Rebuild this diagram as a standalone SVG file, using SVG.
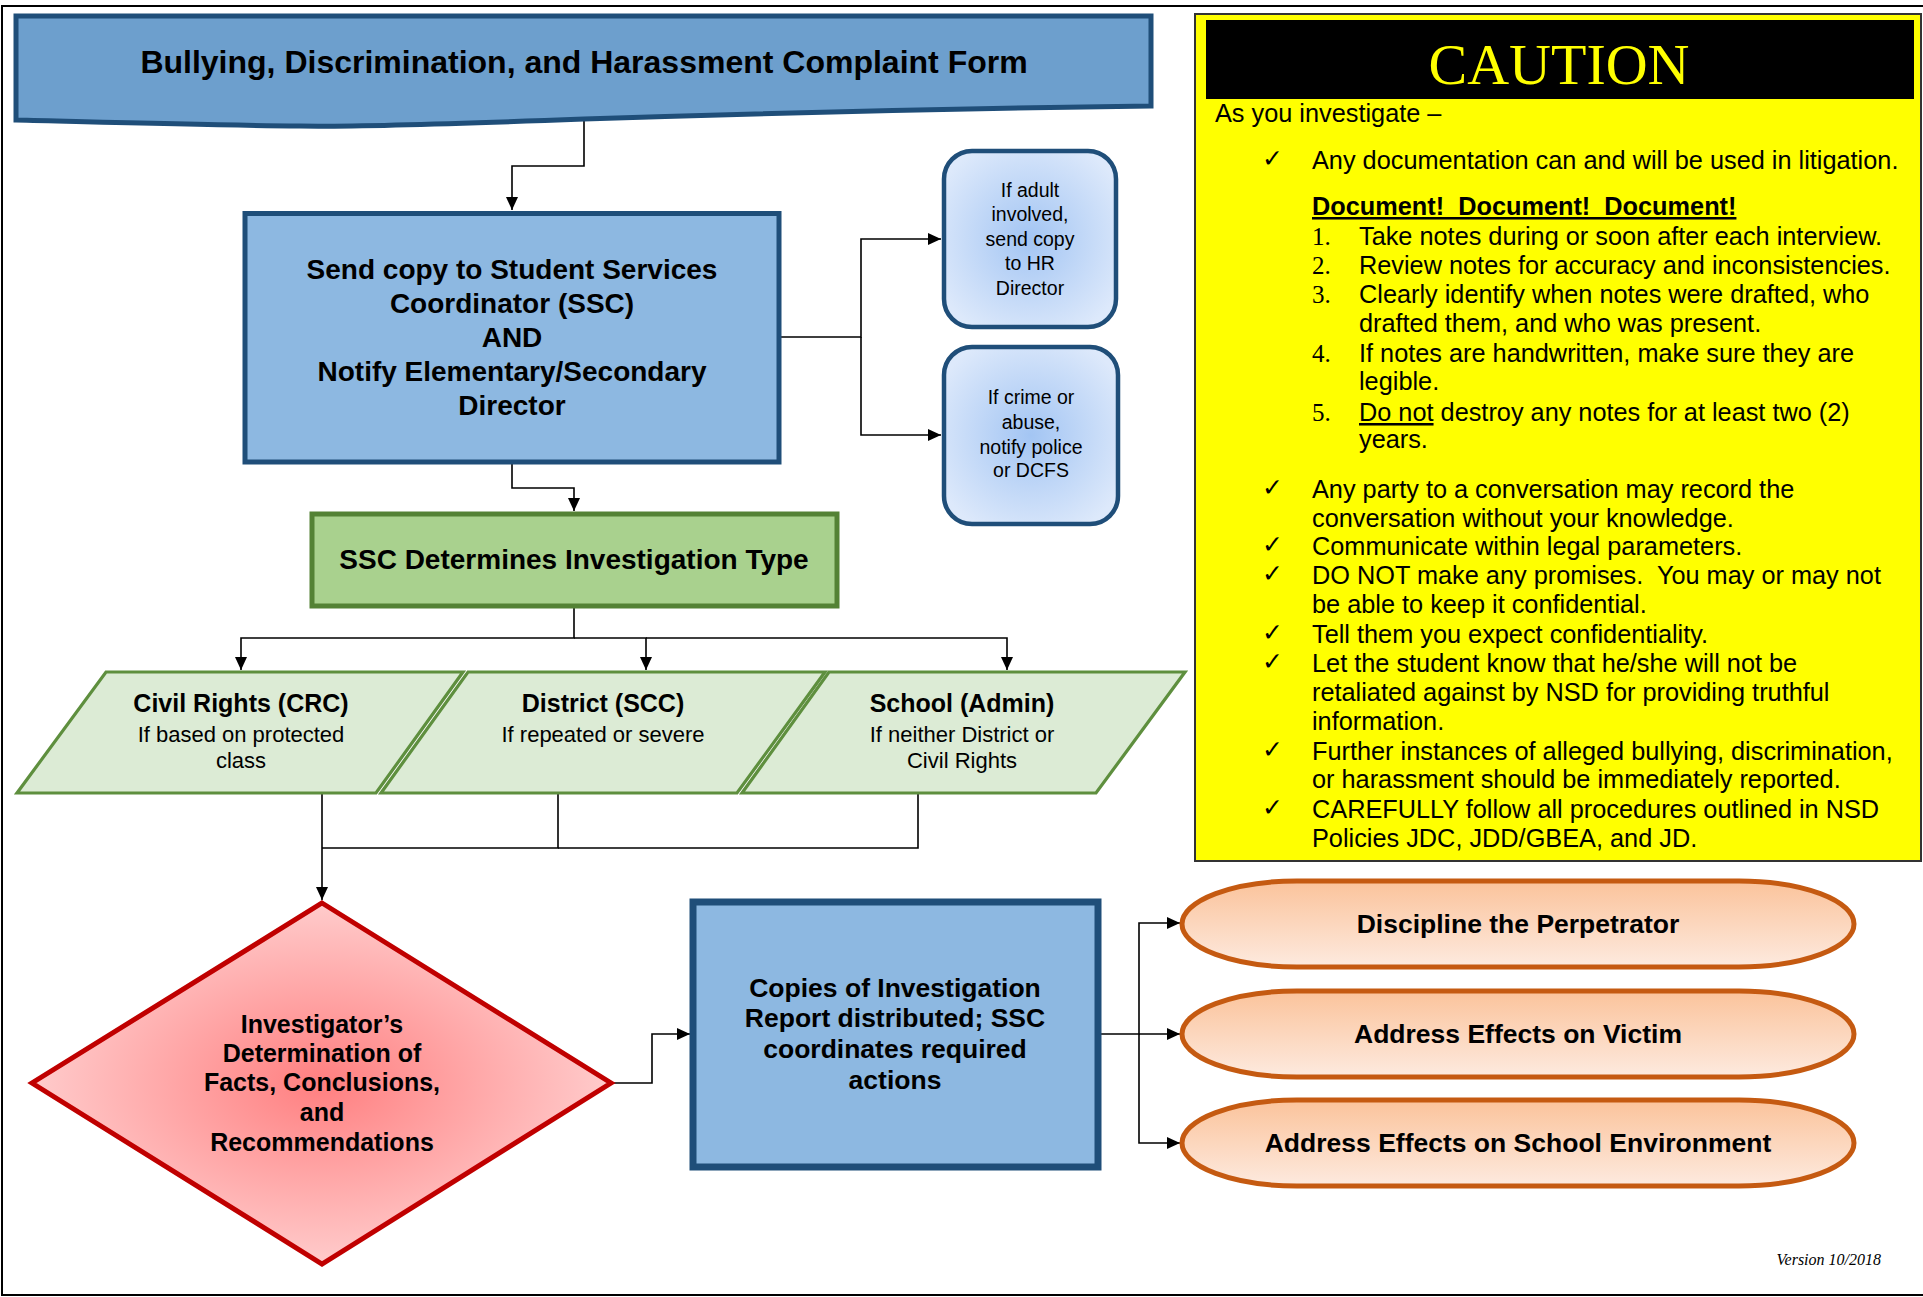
<svg xmlns="http://www.w3.org/2000/svg" width="1923" height="1297" viewBox="0 0 1923 1297">
<style>
text{font-family:"Liberation Sans",Arial,sans-serif;fill:#000}
.b{font-weight:bold}
.c{text-anchor:middle}
.conn{fill:none;stroke:#000;stroke-width:1.6}
.cl{font-size:25.3px}
.num{font-family:"Liberation Serif","Times New Roman",serif;font-size:25px}
.chk{font-family:"DejaVu Serif","DejaVu Sans",serif;font-size:25px}
.side{font-size:19.5px}
</style>
<defs>
<marker id="ah" markerUnits="userSpaceOnUse" markerWidth="13" markerHeight="12" refX="13" refY="6" orient="auto">
<path d="M0,0 L13,6 L0,12 Z" fill="#000"/>
</marker>
<radialGradient id="gSide" cx="50%" cy="50%" r="60%">
<stop offset="0" stop-color="#a3c5f3"/>
<stop offset="1" stop-color="#dde9fb"/>
</radialGradient>
<radialGradient id="gDia" cx="50%" cy="50%" r="55%">
<stop offset="0" stop-color="#ff7f80"/>
<stop offset="1" stop-color="#ffd3d3"/>
</radialGradient>
<linearGradient id="gOval" x1="0" y1="0" x2="0" y2="1">
<stop offset="0" stop-color="#fbc39b"/>
<stop offset="1" stop-color="#fdeadf"/>
</linearGradient>
</defs>
<rect width="1923" height="1297" fill="#fff"/>
<rect x="2" y="6" width="1940" height="1289" fill="none" stroke="#000" stroke-width="2"/>

<g id="connectors">
<path class="conn" d="M584,119 V166 H512 V210" marker-end="url(#ah)"/>
<path class="conn" d="M779,337 H861 V239 H941" marker-end="url(#ah)"/>
<path class="conn" d="M861,337 V435 H941" marker-end="url(#ah)"/>
<path class="conn" d="M512,462 V488 H574 V511" marker-end="url(#ah)"/>
<path class="conn" d="M574,607 V638 H241 V670" marker-end="url(#ah)"/>
<path class="conn" d="M574,638 H646 V670" marker-end="url(#ah)"/>
<path class="conn" d="M646,638 H1007 V670" marker-end="url(#ah)"/>
<path class="conn" d="M203,792 H322 V900" marker-end="url(#ah)"/>
<path class="conn" d="M558,793 V848 H322"/>
<path class="conn" d="M918,793 V848 H558"/>
<path class="conn" d="M611,1083 H652 V1034 H690" marker-end="url(#ah)"/>
<path class="conn" d="M1098,1034 H1139 V923 H1180" marker-end="url(#ah)"/>
<path class="conn" d="M1139,1034 H1180" marker-end="url(#ah)"/>
<path class="conn" d="M1139,1034 V1143 H1180" marker-end="url(#ah)"/>
</g>

<g id="n-form">
<path d="M16,16 H1151 V106 C1000,108 800,112 584,119 C450,124 360,127 300,126 C200,125 100,122 16,120 Z" fill="#6d9fcd" stroke="#1f4e79" stroke-width="5"/>
<text class="b c" x="584" y="73" font-size="32">Bullying, Discrimination, and Harassment Complaint Form</text>
</g>

<g id="n-send">
<rect x="245" y="213.5" width="534" height="248.5" fill="#8db8e1" stroke="#1f4e79" stroke-width="5"/>
<text class="b c" font-size="28"><tspan x="512" y="279">Send copy to Student Services</tspan><tspan x="512" y="313">Coordinator (SSC)</tspan><tspan x="512" y="347">AND</tspan><tspan x="512" y="381">Notify Elementary/Secondary</tspan><tspan x="512" y="415">Director</tspan></text>
</g>

<g id="n-hr">
<rect x="944" y="151" width="172" height="176" rx="28" fill="url(#gSide)" stroke="#1f4e79" stroke-width="4.5"/>
<text class="c side"><tspan x="1030" y="196.5">If adult</tspan><tspan x="1030" y="221">involved,</tspan><tspan x="1030" y="246">send copy</tspan><tspan x="1030" y="270">to HR</tspan><tspan x="1030" y="295">Director</tspan></text>
</g>

<g id="n-police">
<rect x="944" y="347" width="174" height="177" rx="28" fill="url(#gSide)" stroke="#1f4e79" stroke-width="4.5"/>
<text class="c side"><tspan x="1031" y="404">If crime or</tspan><tspan x="1031" y="429">abuse,</tspan><tspan x="1031" y="453.5">notify police</tspan><tspan x="1031" y="477">or DCFS</tspan></text>
</g>

<g id="n-type">
<rect x="312" y="514" width="525" height="92" fill="#a9d18e" stroke="#548235" stroke-width="5"/>
<text class="b c" x="574" y="569" font-size="28">SSC Determines Investigation Type</text>
</g>

<g id="n-crc">
<polygon points="106,672 463,672 376,793 17,793" fill="#dcebd5" stroke="#5e8f3e" stroke-width="3.2"/>
<text class="c"><tspan class="b" x="241" y="712" font-size="25">Civil Rights (CRC)</tspan><tspan x="241" y="742" font-size="22">If based on protected</tspan><tspan x="241" y="768" font-size="22">class</tspan></text>
</g>

<g id="n-scc">
<polygon points="468,672 825,672 737,793 381,793" fill="#dcebd5" stroke="#5e8f3e" stroke-width="3.2"/>
<text class="c"><tspan class="b" x="603" y="712" font-size="25">District (SCC)</tspan><tspan x="603" y="742" font-size="22">If repeated or severe</tspan></text>
</g>

<g id="n-admin">
<polygon points="829,672 1185,672 1096,793 742,793" fill="#dcebd5" stroke="#5e8f3e" stroke-width="3.2"/>
<text class="c"><tspan class="b" x="962" y="712" font-size="25">School (Admin)</tspan><tspan x="962" y="742" font-size="22">If neither District or</tspan><tspan x="962" y="768" font-size="22">Civil Rights</tspan></text>
</g>

<g id="n-determination">
<polygon points="322,903 611,1083 322,1264 32,1083" fill="url(#gDia)" stroke="#c00000" stroke-width="5"/>
<text class="b c" font-size="25"><tspan x="322" y="1033">Investigator’s</tspan><tspan x="322" y="1062">Determination of</tspan><tspan x="322" y="1091">Facts, Conclusions,</tspan><tspan x="322" y="1121">and</tspan><tspan x="322" y="1151">Recommendations</tspan></text>
</g>

<g id="n-copies">
<rect x="693" y="902" width="405" height="265" fill="#8db8e1" stroke="#1f4e79" stroke-width="7"/>
<text class="b c" font-size="26.5"><tspan x="895" y="997">Copies of Investigation</tspan><tspan x="895" y="1027">Report distributed; SSC</tspan><tspan x="895" y="1058">coordinates required</tspan><tspan x="895" y="1089">actions</tspan></text>
</g>

<g id="n-discipline">
<rect x="1182" y="881" width="672" height="86" rx="115" ry="43" fill="url(#gOval)" stroke="#c55a11" stroke-width="5"/>
<text class="b c" x="1518" y="933" font-size="26.5">Discipline the Perpetrator</text>
</g>

<g id="n-victim">
<rect x="1182" y="991" width="672" height="86" rx="115" ry="43" fill="url(#gOval)" stroke="#c55a11" stroke-width="5"/>
<text class="b c" x="1518" y="1043" font-size="26.5">Address Effects on Victim</text>
</g>

<g id="n-environment">
<rect x="1182" y="1100" width="672" height="86" rx="115" ry="43" fill="url(#gOval)" stroke="#c55a11" stroke-width="5"/>
<text class="b c" x="1518" y="1152" font-size="26.5">Address Effects on School Environment</text>
</g>

<g id="n-caution">
<rect x="1195" y="14" width="726" height="847" fill="#ffff00" stroke="#333" stroke-width="2"/>
<rect x="1206" y="20" width="708" height="79" fill="#000"/>
<text x="1559" y="84" text-anchor="middle" font-size="58" style="fill:#ffff00;font-family:'Liberation Serif','Times New Roman',serif">CAUTION</text>
<text class="cl" x="1215" y="122">As you investigate –</text>
<text class="chk" x="1262" y="167">✓</text>
<text class="cl" x="1312" y="169">Any documentation can and will be used in litigation.</text>
<text class="cl b" x="1312" y="215" text-decoration="underline" xml:space="preserve">Document!  Document!  Document!</text>
<text class="num" x="1312" y="245">1.</text><text class="cl" x="1359" y="245">Take notes during or soon after each interview.</text>
<text class="num" x="1312" y="274">2.</text><text class="cl" x="1359" y="274">Review notes for accuracy and inconsistencies.</text>
<text class="num" x="1312" y="303">3.</text><text class="cl" x="1359" y="303">Clearly identify when notes were drafted, who</text>
<text class="cl" x="1359" y="332">drafted them, and who was present.</text>
<text class="num" x="1312" y="362">4.</text><text class="cl" x="1359" y="362">If notes are handwritten, make sure they are</text>
<text class="cl" x="1359" y="390">legible.</text>
<text class="num" x="1312" y="421">5.</text><text class="cl" x="1359" y="421" xml:space="preserve"><tspan text-decoration="underline">Do not</tspan> destroy any notes for at least two (2)</text>
<text class="cl" x="1359" y="448">years.</text>
<text class="chk" x="1262" y="496">✓</text><text class="cl" x="1312" y="498">Any party to a conversation may record the</text>
<text class="cl" x="1312" y="527">conversation without your knowledge.</text>
<text class="chk" x="1262" y="553">✓</text><text class="cl" x="1312" y="555">Communicate within legal parameters.</text>
<text class="chk" x="1262" y="582">✓</text><text class="cl" x="1312" y="584" xml:space="preserve">DO NOT make any promises.  You may or may not</text>
<text class="cl" x="1312" y="613">be able to keep it confidential.</text>
<text class="chk" x="1262" y="641">✓</text><text class="cl" x="1312" y="643">Tell them you expect confidentiality.</text>
<text class="chk" x="1262" y="670">✓</text><text class="cl" x="1312" y="672">Let the student know that he/she will not be</text>
<text class="cl" x="1312" y="701">retaliated against by NSD for providing truthful</text>
<text class="cl" x="1312" y="730">information.</text>
<text class="chk" x="1262" y="758">✓</text><text class="cl" x="1312" y="760">Further instances of alleged bullying, discrimination,</text>
<text class="cl" x="1312" y="788">or harassment should be immediately reported.</text>
<text class="chk" x="1262" y="816">✓</text><text class="cl" x="1312" y="818">CAREFULLY follow all procedures outlined in NSD</text>
<text class="cl" x="1312" y="847">Policies JDC, JDD/GBEA, and JD.</text>
</g>

<text x="1881" y="1265" text-anchor="end" font-size="16" style="font-family:'Liberation Serif','Times New Roman',serif;font-style:italic">Version 10/2018</text>
</svg>
